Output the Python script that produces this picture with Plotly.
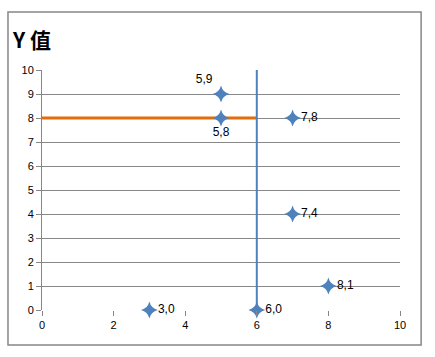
import plotly.graph_objects as go

x_vals = [5, 5, 7, 7, 8, 3, 6]
y_vals = [9, 8, 8, 4, 1, 0, 0]
point_labels = ["5,9", "5,8", "7,8", "7,4", "8,1", "3,0", "6,0"]
label_pos = ["top left", "bottom center", "middle right", "middle right",
             "middle right", "middle right", "middle right"]

vline_x = [6, 6]
vline_y = [0, 10.15]
hline_x = [0, 6]
hline_y = [8, 8]

x_ticks = [0, 2, 4, 6, 8, 10]
y_ticks = list(range(0, 11))

blue = "#4F81BD"
orange = "#E46C0A"

fig = go.Figure()
fig.add_trace(go.Scatter(x=hline_x, y=hline_y, mode="lines",
                         line=dict(color=orange, width=3), cliponaxis=False,
                         showlegend=False, hoverinfo="skip"))
fig.add_trace(go.Scatter(x=vline_x, y=vline_y, mode="lines",
                         line=dict(color=blue, width=2), cliponaxis=False,
                         showlegend=False, hoverinfo="skip"))
fig.add_trace(go.Scatter(x=x_vals, y=y_vals, mode="markers+text",
                         marker=dict(symbol="star-diamond", size=12, color=blue),
                         text=point_labels, textposition=label_pos,
                         textfont=dict(size=12, color="#000000", family="Liberation Sans"),
                         cliponaxis=False, showlegend=False))

fig.update_layout(
    width=435, height=357,
    margin=dict(l=42, r=35, t=70, b=47),
    paper_bgcolor="white", plot_bgcolor="white",
    font=dict(family="Liberation Sans", size=11, color="#000000"),
    title=dict(text="<b>Y 值</b>", x=0.03, xanchor="left", y=0.885, yanchor="middle",
               font=dict(size=21, family="Noto Sans CJK SC", color="#000000")),
    xaxis=dict(range=[0, 10], tickvals=x_ticks, showgrid=False, zeroline=False,
               showline=False, ticks="outside", ticklen=5, tickcolor="#878787",
               tickfont=dict(size=11)),
    yaxis=dict(range=[0, 10], tickvals=y_ticks, showgrid=True, gridcolor="#878787",
               gridwidth=1, zeroline=False, showline=True, linecolor="#878787",
               ticks="outside", ticklen=5, tickcolor="#878787", tickfont=dict(size=11)),
    shapes=[dict(type="rect", xref="paper", yref="paper", x0=-0.095, x1=1.059,
                 y0=-0.146, y1=1.242, line=dict(color="#878787", width=1.5),
                 layer="below")],
)
fig.write_html("out.html", config={"displayModeBar": False},
               post_script="document.body.style.margin='0';document.body.style.padding='0';")
